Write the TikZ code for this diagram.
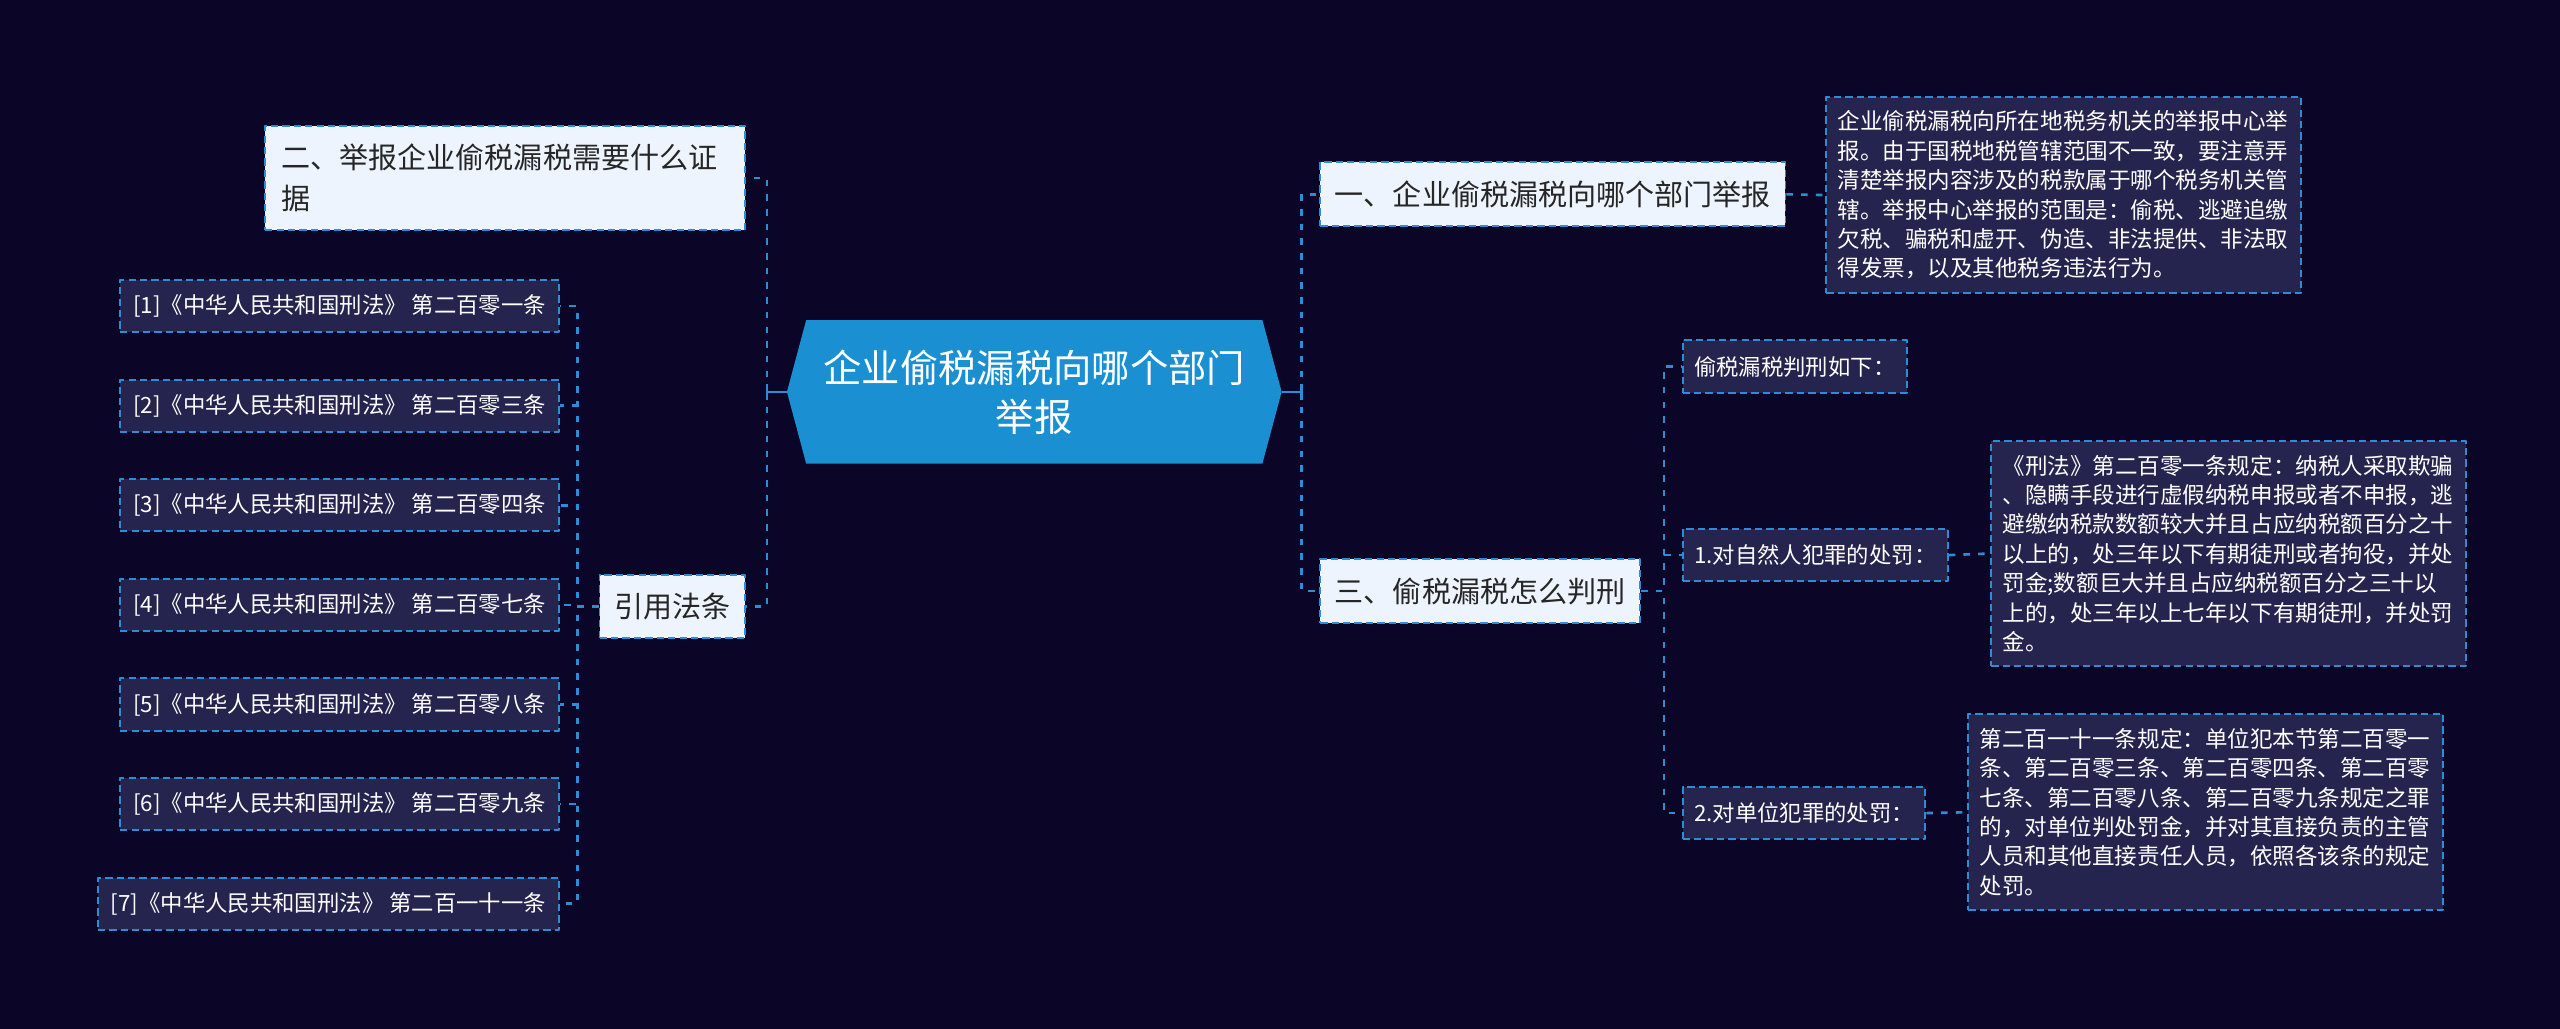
\documentclass[tikz,border=0pt]{standalone}
\usepackage{fontspec}
\setmainfont{Noto Sans CJK SC}
\usetikzlibrary{shapes.symbols}
\definecolor{bgnavy}{HTML}{0B0628}
\definecolor{rootblue}{HTML}{1A90D2}
\definecolor{linkblue}{HTML}{2E8CD4}
\definecolor{lightfill}{HTML}{EEF4FD}
\definecolor{darkfill}{HTML}{25244E}
\begin{document}
\begin{tikzpicture}[x=1pt, y=-1pt, line join=round,
		link/.style={draw=linkblue, line width=1.6pt, dash pattern=on 4pt off 5pt},
		stub/.style={draw=linkblue, line width=1.6pt},
		rootnode/.style={signal, signal to=east and west, signal pointer angle=150, fill=rootblue, text=white,
			align=center, minimum width=303pt, minimum height=88pt, inner sep=0pt, font=\fontsize{23.5}{30}\selectfont},
		topic/.style={draw=linkblue, line width=1.2pt, dash pattern=on 4.5pt off 2.5pt, fill=lightfill, text=black!85,
			font=\fontsize{17.8}{25}\selectfont, inner xsep=9pt, minimum height=39pt},
		leaf/.style={draw=linkblue, line width=1.2pt, dash pattern=on 4.5pt off 2.5pt, fill=darkfill, text=white,
			font=\fontsize{13.7}{18}\selectfont, inner xsep=7pt, minimum height=32pt},
		note/.style={leaf, text width=277pt, align=left, inner xsep=7pt, inner ysep=8.5pt, font=\fontsize{13.8}{18}\selectfont}]
	% page
	\useasboundingbox (0,0) rectangle (1568,630);
	\fill[bgnavy] (0,0) rectangle (1568,630);
	% centre
	\node[rootnode] (root) at (633.5,240) {企业偷税漏税向哪个部门\\举报};
	% right side
	\node[topic, anchor=west] (t1) at (808,119) {一、企业偷税漏税向哪个部门举报};
	\node[topic, anchor=west] (t4) at (808,362) {三、偷税漏税怎么判刑};
	\node[note, anchor=west] (n1) at (1118,119.5) {企业偷税漏税向所在地税务机关的举报中心举\\报。由于国税地税管辖范围不一致，要注意弄\\清楚举报内容涉及的税款属于哪个税务机关管\\辖。举报中心举报的范围是：偷税、逃避追缴\\欠税、骗税和虚开、伪造、非法提供、非法取\\得发票，以及其他税务违法行为。};
	\node[leaf, anchor=west] (s1) at (1030,224.5) {偷税漏税判刑如下：};
	\node[leaf, anchor=west] (s2) at (1030,340) {1.对自然人犯罪的处罚：};
	\node[leaf, anchor=west] (s3) at (1030,498) {2.对单位犯罪的处罚：};
	\node[note, anchor=west] (n2) at (1219,339) {《刑法》第二百零一条规定：纳税人采取欺骗\\、隐瞒手段进行虚假纳税申报或者不申报，逃\\避缴纳税款数额较大并且占应纳税额百分之十\\以上的，处三年以下有期徒刑或者拘役，并处\\罚金;数额巨大并且占应纳税额百分之三十以\\上的，处三年以上七年以下有期徒刑，并处罚\\金。};
	\node[note, anchor=west] (n3) at (1205,497.5) {第二百一十一条规定：单位犯本节第二百零一\\条、第二百零三条、第二百零四条、第二百零\\七条、第二百零八条、第二百零九条规定之罪\\的，对单位判处罚金，并对其直接负责的主管\\人员和其他直接责任人员，依照各该条的规定\\处罚。};
	% left side
	\node[topic, anchor=east, text width=274pt, align=left, inner xsep=10pt, minimum height=64pt] (t2) at (457,109) {二、举报企业偷税漏税需要什么证\\据};
	\node[topic, anchor=east] (t3) at (457,371.5) {引用法条};
	\foreach \i/\art in {1/第二百零一条, 2/第二百零三条, 3/第二百零四条, 4/第二百零七条, 5/第二百零八条, 6/第二百零九条, 7/第二百一十一条} {
		\node[leaf, anchor=east, inner xsep=8pt] (c\i) at (343,126.5+61*\i) {[\i]《中华人民共和国刑法》 \art};
		\draw[link] (t3.west) -- ++(-13,0) |- (c\i.east);
	}
	% connectors
	\draw[stub] (root.east) -- ++(12,0) coordinate (rspine) ++(0,-5) -- ++(0,10);
	\draw[stub] (root.west) -- ++(-12,0) coordinate (lspine) ++(0,-5) -- ++(0,10);
	\draw[link] (rspine) |- (t1.west);
	\draw[link] (rspine) |- (t4.west);
	\draw[link] (lspine) |- (t2.east);
	\draw[link] (lspine) |- (t3.east);
	\draw[link] (t1.east) -- (n1.west);
	\draw[link] (t4.east) -- ++(14,0) |- (s1.west);
	\draw[link] (t4.east) -- ++(14,0) |- (s2.west);
	\draw[link] (t4.east) -- ++(14,0) |- (s3.west);
	\draw[link] (s2.east) -- (n2.west);
	\draw[link] (s3.east) -- (n3.west);
\end{tikzpicture}
\end{document}
